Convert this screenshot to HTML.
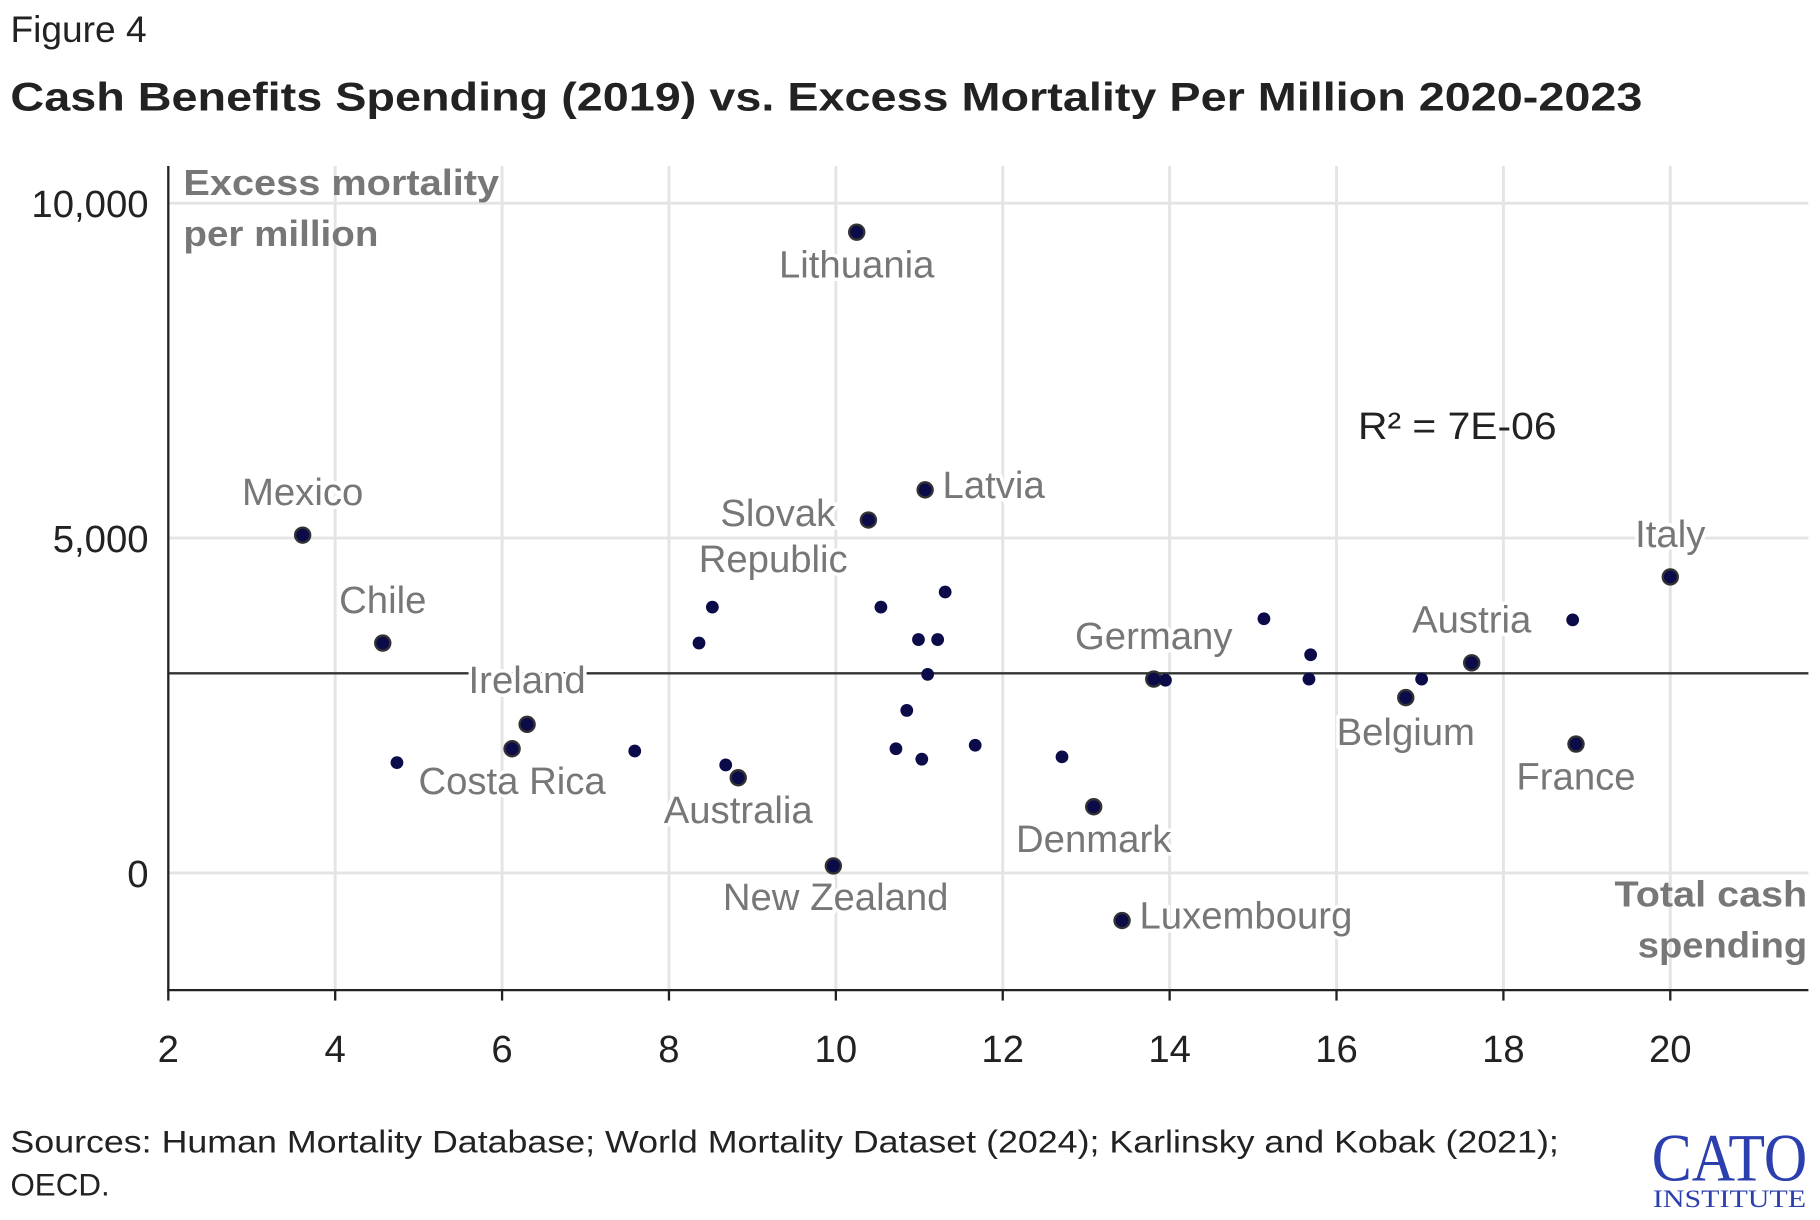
<!DOCTYPE html>
<html><head><meta charset="utf-8"><style>
html,body{margin:0;padding:0;background:#fff;}
svg{display:block;font-family:"Liberation Sans",sans-serif;}
</style></head><body>
<svg id="chart" width="1820" height="1220" viewBox="0 0 1568 1051" xmlns="http://www.w3.org/2000/svg">
<text x="9" y="36" font-size="32" fill="#222">Figure 4</text>
<text x="9" y="95" font-size="34" font-weight="bold" fill="#222" textLength="1406" lengthAdjust="spacingAndGlyphs">Cash Benefits Spending (2019) vs. Excess Mortality Per Million 2020-2023</text>
<g id="grid"></g>
<g id="trend"></g>
<g id="pts"></g>
<g id="axes"></g>
<text font-size="31" font-weight="bold" fill="#777"><tspan x="158" y="168" textLength="272" lengthAdjust="spacingAndGlyphs">Excess mortality</tspan><tspan x="158" y="212" textLength="168" lengthAdjust="spacingAndGlyphs">per million</tspan></text>
<text font-size="31" font-weight="bold" fill="#777" text-anchor="end"><tspan x="1557" y="781" textLength="166" lengthAdjust="spacingAndGlyphs">Total cash</tspan><tspan x="1557" y="825" textLength="146" lengthAdjust="spacingAndGlyphs">spending</tspan></text>
<text x="1170" y="378" font-size="33" fill="#222" textLength="171" lengthAdjust="spacingAndGlyphs">R² = 7E-06</text>
<text font-size="27" fill="#222"><tspan x="9" y="993" textLength="1334" lengthAdjust="spacingAndGlyphs">Sources: Human Mortality Database; World Mortality Dataset (2024); Karlinsky and Kobak (2021);</tspan><tspan x="9" y="1030">OECD.</tspan></text>
<g fill="#2b3fae" font-family="'Liberation Serif',serif">
<text x="1490" y="1017" font-size="58" text-anchor="middle" textLength="134" lengthAdjust="spacingAndGlyphs">CATO</text>
<text x="1490" y="1040" font-size="22" text-anchor="middle" textLength="132" lengthAdjust="spacingAndGlyphs">INSTITUTE</text>
</g>
</svg>
<script>
const xs=[3.61,4.57,4.74,6.12,6.30,7.59,8.36,8.52,8.68,8.83,9.97,10.25,10.39,10.54,10.72,10.85,10.99,11.03,11.07,11.10,11.22,11.31,11.67,12.71,13.09,13.43,13.81,13.95,15.13,15.69,15.67,16.83,17.02,17.62,18.83,18.87,20.0];
const ys=[5043,3432,1646,1854,2218,1820,3432,3969,1612,1421,104,9567,5269,3969,1854,2426,3484,1698,5719,2964,3484,4194,1906,1733,988,-711,2894,2877,3795,3258,2894,2617,2894,3137,3778,1924,4419];
const names=["Mexico","Chile","","Costa Rica","Ireland","","","","","Australia","New Zealand","Lithuania","Slovak Republic","","","","","","Latvia","","","","","","Denmark","Luxembourg","Germany","","","","","Belgium","","Austria","","France","Italy"];
const xTicks=[2,4,6,8,10,12,14,16,18,20];
const yTicks=[0,5000,10000];
const yTickLabels=["0","5,000","10,000"];
const trendValue=2980;
const lab={"Mexico":[0,-26,"middle"],"Chile":[0,-26,"middle"],"Costa Rica":[0,39,"middle"],"Ireland":[0,-27,"middle"],"Australia":[0,39,"middle"],"New Zealand":[2,38,"middle"],"Lithuania":[0,39,"middle"],"Latvia":[15,7,"start"],"Denmark":[0,39,"middle"],"Luxembourg":[15,7,"start"],"Germany":[0,-26,"middle"],"Belgium":[0,41,"middle"],"Austria":[0,-26,"middle"],"France":[0,39,"middle"],"Italy":[0,-26,"middle"]};
const NS="http://www.w3.org/2000/svg";
const X0=145,X1=1558,Y0=853,Y1=143;
const sx=v=>145+(v-2)*71.89;
const sy=v=>752-v*0.0577;
function mk(tag,attrs,parent){const e=document.createElementNS(NS,tag);for(const k in attrs)e.setAttribute(k,attrs[k]);parent.appendChild(e);return e;}
const grid=document.getElementById('grid'),axes=document.getElementById('axes'),pts=document.getElementById('pts'),tr=document.getElementById('trend');
xTicks.forEach(t=>{if(t===2)return;const l=mk('line',{x1:sx(t),x2:sx(t),y1:Y1,y2:Y0,stroke:'#e4e4e4','stroke-width':2.5},grid);

});
yTicks.forEach((t,i)=>{const l=mk('line',{x1:X0,x2:X1,y1:sy(t),y2:sy(t),stroke:'#e4e4e4','stroke-width':2.5},grid);


const tx=mk('text',{x:128,y:sy(t)+12,'font-size':33,fill:'#222','text-anchor':'end'},axes);tx.textContent=yTickLabels[i];

});
const tl=mk('line',{x1:X0,x2:X1,y1:sy(trendValue),y2:sy(trendValue),stroke:'#333','stroke-width':2},tr);


let a=mk('line',{x1:X0,x2:X0,y1:Y1,y2:Y0+1,stroke:'#222','stroke-width':2},axes);


a=mk('line',{x1:X0,x2:X1,y1:Y0,y2:Y0,stroke:'#222','stroke-width':2},axes);


xTicks.forEach(t=>{const tk=mk('line',{x1:sx(t),x2:sx(t),y1:Y0,y2:Y0+9,stroke:'#222','stroke-width':2},axes);


const tx=mk('text',{x:sx(t),y:915,'font-size':33,fill:'#222','text-anchor':'middle'},axes);tx.textContent=t;

});
xs.forEach((x,i)=>{const n=names[i];const c=mk('circle',{cx:sx(x),cy:sy(ys[i]),r:n?6.5:5.5,fill:'#0b0b4a',stroke:n?'#333':'none','stroke-width':2},pts);

});
xs.forEach((x,i)=>{const n=names[i];if(!n)return;const px=sx(x),py=sy(ys[i]);
if(n==="Slovak Republic"){const t=mk('text',{'font-size':33,fill:'#777','text-anchor':'middle',stroke:'#fff','stroke-width':6,'paint-order':'stroke'},pts);
t.innerHTML='<tspan x="'+(px-78)+'" y="'+(py+5)+'">Slovak</tspan><tspan x="'+(px-82)+'" y="'+(py+45)+'">Republic</tspan>';

return;}
const o=lab[n];const t=mk('text',{x:px+o[0],y:py+o[1],'font-size':33,fill:'#777','text-anchor':o[2],stroke:'#fff','stroke-width':6,'paint-order':'stroke'},pts);t.textContent=n;

});
</script>
</body></html>
